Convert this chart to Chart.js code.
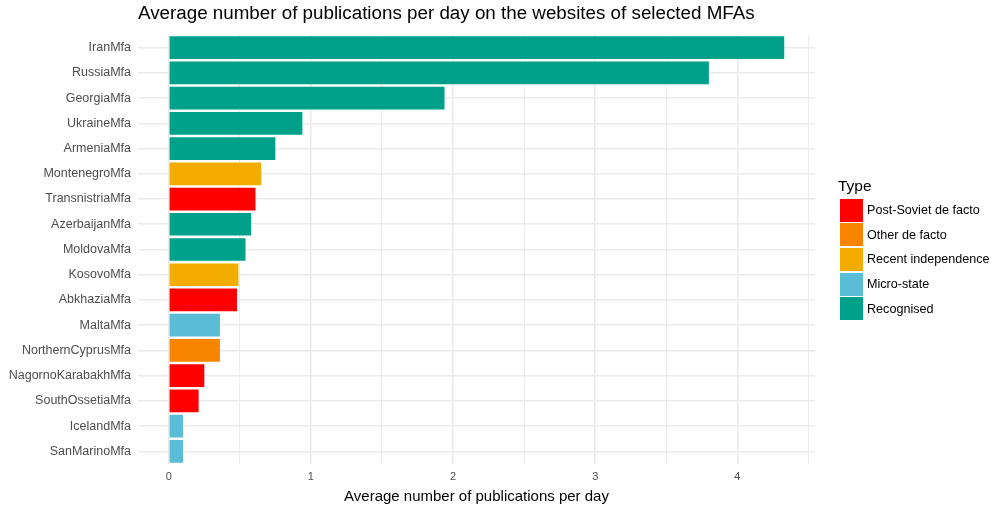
<!DOCTYPE html>
<html>
<head>
<meta charset="utf-8">
<script src="https://cdn.jsdelivr.net/npm/chart.js@4/dist/chart.umd.min.js"></script>
<style>
  html, body { margin: 0; padding: 0; background: #fff; }
  body { width: 1001px; height: 512px; position: relative; overflow: hidden; font-family: "Liberation Sans", Arial, sans-serif; }
  #wrap { position: absolute; left: 0; top: 0; width: 1001px; height: 512px; }
  #title { position: absolute; left: 138px; top: 4px; font-size: 18.8px; line-height: 18.8px; color: #000; white-space: nowrap; }
  #legend { position: absolute; left: 838px; top: 177px; }
  #legend .ttl { font-size: 15.5px; color: #000; height: 21px; line-height: 18px; }
  #legend .item { display: flex; align-items: center; height: 24.6px; }
  #legend .key { width: 23px; height: 23px; margin-left: 2px; margin-right: 4px; }
  #legend .lbl { font-size: 12.6px; color: #000; }
</style>
</head>
<body>
<div id="wrap"><canvas id="c" width="1001" height="512"></canvas></div>
<div id="title">Average number of publications per day on the websites of selected MFAs</div>
<div id="legend"></div>
<script>
const categories = ['IranMfa','RussiaMfa','GeorgiaMfa','UkraineMfa','ArmeniaMfa','MontenegroMfa','TransnistriaMfa','AzerbaijanMfa','MoldovaMfa','KosovoMfa','AbkhaziaMfa','MaltaMfa','NorthernCyprusMfa','NagornoKarabakhMfa','SouthOssetiaMfa','IcelandMfa','SanMarinoMfa'];
const values = [4.33, 3.80, 1.94, 0.94, 0.75, 0.65, 0.61, 0.58, 0.54, 0.49, 0.48, 0.36, 0.36, 0.25, 0.21, 0.10, 0.10];
const types = ['Recognised','Recognised','Recognised','Recognised','Recognised','Recent independence','Post-Soviet de facto','Recognised','Recognised','Recent independence','Post-Soviet de facto','Micro-state','Other de facto','Post-Soviet de facto','Post-Soviet de facto','Micro-state','Micro-state'];
const typeNames = ['Post-Soviet de facto','Other de facto','Recent independence','Micro-state','Recognised'];
const typeColors = ['#FF0000','#F98400','#F2AD00','#5BBCD6','#00A08A'];
const xTicks = [0, 0.5, 1, 1.5, 2, 2.5, 3, 3.5, 4, 4.5];
const xTitle = 'Average number of publications per day';
const legendTitle = 'Type';

const colorOf = t => typeColors[typeNames.indexOf(t)];

// legend
const lg = document.getElementById('legend');
const lt = document.createElement('div'); lt.className = 'ttl'; lt.textContent = legendTitle; lg.appendChild(lt);
typeNames.forEach((n, i) => {
  const it = document.createElement('div'); it.className = 'item';
  const k = document.createElement('div'); k.className = 'key'; k.style.background = typeColors[i];
  const l = document.createElement('div'); l.className = 'lbl'; l.textContent = n;
  it.appendChild(k); it.appendChild(l); lg.appendChild(it);
});

const FONT = "'Liberation Sans', Arial, sans-serif";
new Chart(document.getElementById('c'), {
  type: 'bar',
  data: {
    labels: categories,
    datasets: [{
      data: values,
      backgroundColor: types.map(colorOf),
      borderWidth: 0,
      barPercentage: 0.9,
      categoryPercentage: 1.0
    }]
  },
  options: {
    indexAxis: 'y',
    responsive: false,
    animation: false,
    devicePixelRatio: 1,
    layout: { padding: { left: 0, right: 186, top: 35, bottom: 4 } },
    plugins: { legend: { display: false }, tooltip: { enabled: false }, title: { display: false } },
    scales: {
      x: {
        type: 'linear',
        min: -0.2165,
        max: 4.5465,
        afterBuildTicks: s => { s.ticks = xTicks.map(v => ({ value: v })); },
        afterFit: s => { s.height = 44; },
        border: { display: false },
        grid: {
          drawTicks: false,
          color: '#ebebeb',
          lineWidth: ctx => (ctx.tick && Number.isInteger(ctx.tick.value)) ? 1.6 : 0.9
        },
        ticks: {
          padding: 6,
          color: '#4d4d4d',
          font: { family: FONT, size: 11 },
          maxRotation: 0,
          autoSkip: false,
          callback: v => Number.isInteger(v) ? String(v) : ''
        },
        title: {
          display: true,
          text: xTitle,
          color: '#000',
          font: { family: FONT, size: 15 },
          padding: { top: 0, bottom: 2.3 }
        }
      },
      y: {
        type: 'category',
        offset: true,
        afterFit: s => { s.width = 138; },
        border: { display: false },
        grid: { offset: false, drawTicks: false, color: '#ebebeb', lineWidth: 1.6 },
        ticks: {
          padding: 7,
          color: '#4d4d4d',
          font: { family: FONT, size: 12.5 },
          autoSkip: false
        }
      }
    }
  }
});
</script>
</body>
</html>
